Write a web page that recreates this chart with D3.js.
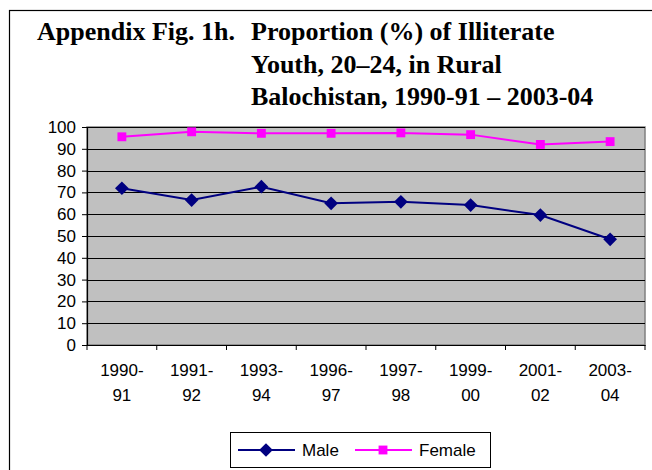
<!DOCTYPE html>
<html>
<head>
<meta charset="utf-8">
<script src="https://cdn.jsdelivr.net/npm/d3@7"></script>
<style>
  body { margin: 0; background: #fff; }
  svg { display: block; }
</style>
</head>
<body>
<svg id="viz"></svg>
<script>
// ---------------------------
// Data
// ---------------------------

const years = ["1990-91", "1991-92", "1993-94", "1996-97", "1997-98", "1999-00", "2001-02", "2003-04"];
const male = [71.9, 66.5, 72.6, 65.0, 65.7, 64.2, 59.6, 48.5];
const female = [95.5, 97.8, 97.1, 97.1, 97.3, 96.5, 92.0, 93.3];
const yTicks = [0, 10, 20, 30, 40, 50, 60, 70, 80, 90, 100];
const titleLabel = "Appendix Fig. 1h.";
const titleLines = [
    "Proportion (%) of Illiterate",
    "Youth, 20\u201324, in Rural",
    "Balochistan, 1990-91 \u2013 2003-04"
];

// ---------------------------
// Create SVG
// ---------------------------

const width = 652;
const height = 470;

const svg = d3.select("#viz")
    .attr("width", width)
    .attr("height", height);

// outer chart border (runs off right/bottom)
svg.append("rect")
    .attr("x", 9.5)
    .attr("y", 10.5)
    .attr("width", 660)
    .attr("height", 480)
    .attr("fill", "#fff")
    .attr("stroke", "#000")
    .attr("stroke-width", 1.2);

// title: label, then tab-aligned lines
const titleFont = "Liberation Serif, Times New Roman, serif";

svg.append("text")
    .attr("x", 37)
    .attr("y", 40)
    .attr("font-family", titleFont)
    .attr("font-weight", "bold")
    .attr("font-size", 26)
    .text(titleLabel);

titleLines.forEach((t, i) => {
    svg.append("text")
        .attr("x", 251)
        .attr("y", 40 + i * 32.5)
        .attr("font-family", titleFont)
        .attr("font-weight", "bold")
        .attr("font-size", 26)
        .text(t);
});

// ---------------------------
// Scales
// ---------------------------

const plot = { left: 87, right: 645, top: 127, bottom: 345 };

const x = d3.scaleBand()
    .domain(years)
    .range([plot.left, plot.right]);

const y = d3.scaleLinear()
    .domain([0, 100])
    .range([plot.bottom, plot.top]);

// plot area
svg.append("rect")
    .attr("x", plot.left)
    .attr("y", plot.top)
    .attr("width", plot.right - plot.left)
    .attr("height", plot.bottom - plot.top)
    .attr("fill", "#c0c0c0")
    .attr("stroke", "#808080")
    .attr("stroke-width", 1.5);

// gridlines
svg.append("g")
    .selectAll("line")
    .data(yTicks.filter(d => d > 0))
    .join("line")
    .attr("x1", plot.left)
    .attr("x2", plot.right)
    .attr("y1", d => Math.round(y(d)) + 0.5)
    .attr("y2", d => Math.round(y(d)) + 0.5)
    .attr("stroke", "#000")
    .attr("stroke-width", 1);

// y axis
const yAxis = svg.append("g")
    .attr("transform", `translate(${plot.left},0)`)
    .call(d3.axisLeft(y).tickValues(yTicks).tickSize(5).tickPadding(6));

// x axis
const xAxis = svg.append("g")
    .attr("transform", `translate(0,${plot.bottom})`)
    .call(d3.axisBottom(x).tickSize(0).tickPadding(0).tickFormat(""));

xAxis.selectAll(".tick").remove();

// tick marks at band boundaries
svg.append("g")
    .selectAll("line")
    .data(years.map(d => x(d)).concat([plot.right]))
    .join("line")
    .attr("x1", d => d)
    .attr("x2", d => d)
    .attr("y1", plot.bottom)
    .attr("y2", plot.bottom + 5)
    .attr("stroke", "#000");

[yAxis, xAxis].forEach(g => {
    g.select(".domain").attr("stroke", "#000").attr("stroke-width", 1.2);
    g.selectAll(".tick line").attr("stroke", "#000");
    g.selectAll("text")
        .attr("font-family", "Liberation Sans, Arial, sans-serif")
        .attr("font-size", 17)
        .attr("fill", "#000");
});

// x labels, two lines
const xLabels = svg.append("g");
years.forEach(yr => {
    const parts = yr.split("-");
    const t = xLabels.append("text")
        .attr("x", x(yr) + x.bandwidth() / 2)
        .attr("y", 376)
        .attr("text-anchor", "middle")
        .attr("font-family", "Liberation Sans, Arial, sans-serif")
        .attr("font-size", 17);
    t.append("tspan").attr("x", x(yr) + x.bandwidth() / 2).attr("dy", 0).text(parts[0] + "-");
    t.append("tspan").attr("x", x(yr) + x.bandwidth() / 2).attr("dy", 25).text(parts[1]);
});

// ---------------------------
// Series
// ---------------------------

const cx = d => x(d) + x.bandwidth() / 2;

const series = [
    { name: "Male", values: male, color: "#000080", shape: "diamond" },
    { name: "Female", values: female, color: "#ff00ff", shape: "square" }
];

const symbolFor = s => s === "diamond"
    ? d3.symbol().type(d3.symbolDiamond2).size(120)
    : d3.symbol().type(d3.symbolSquare2).size(100);

series.forEach(s => {
    const line = d3.line()
        .x((d, i) => cx(years[i]))
        .y(d => y(d));

    svg.append("path")
        .datum(s.values)
        .attr("d", line)
        .attr("fill", "none")
        .attr("stroke", s.color)
        .attr("stroke-width", 2);

    svg.append("g")
        .selectAll("path")
        .data(s.values)
        .join("path")
        .attr("transform", (d, i) => `translate(${cx(years[i])},${y(d)})`)
        .attr("d", symbolFor(s.shape)())
        .attr("fill", s.color);
});

// ---------------------------
// Legend
// ---------------------------

const legend = svg.append("g");

legend.append("rect")
    .attr("x", 230.5)
    .attr("y", 432.5)
    .attr("width", 260)
    .attr("height", 35)
    .attr("fill", "#fff")
    .attr("stroke", "#000");

const legendX = [238, 355];

series.forEach((s, i) => {
    const lx = legendX[i];
    legend.append("line")
        .attr("x1", lx)
        .attr("x2", lx + 57)
        .attr("y1", 450)
        .attr("y2", 450)
        .attr("stroke", s.color)
        .attr("stroke-width", 2);
    legend.append("path")
        .attr("transform", `translate(${lx + 28},450)`)
        .attr("d", symbolFor(s.shape)())
        .attr("fill", s.color);
    legend.append("text")
        .attr("x", lx + 64)
        .attr("y", 456)
        .attr("font-family", "Liberation Sans, Arial, sans-serif")
        .attr("font-size", 17)
        .text(s.name);
});
</script>
</body>
</html>
